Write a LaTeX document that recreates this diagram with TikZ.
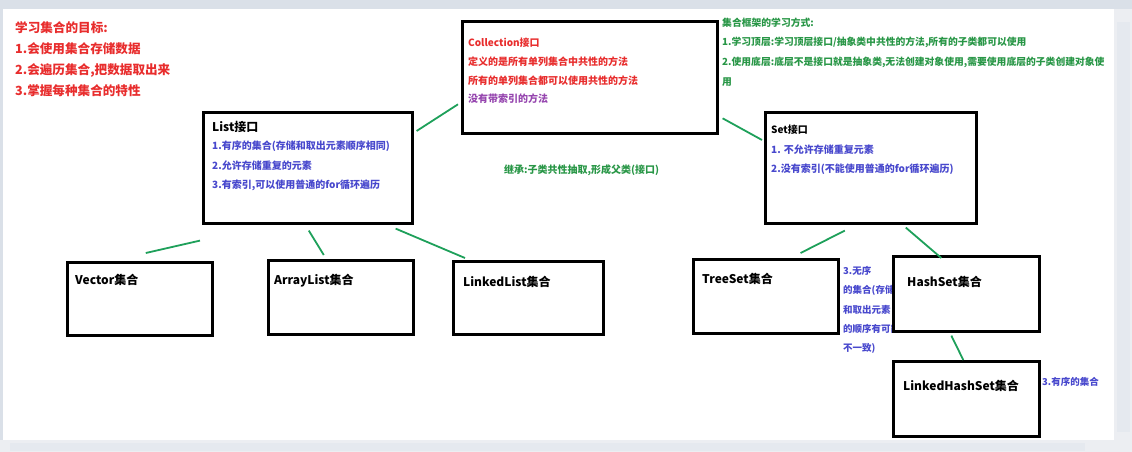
\documentclass[tikz,border=0pt]{standalone}
\usepackage{fontspec}
\setmainfont{Noto Sans CJK SC}
\usetikzlibrary{positioning,calc}
\definecolor{redtxt}{RGB}{232,45,45}
\definecolor{bluetxt}{RGB}{72,72,205}
\definecolor{greentxt}{RGB}{40,150,70}
\definecolor{purpletxt}{RGB}{150,70,175}
\definecolor{linkgreen}{RGB}{30,160,90}
\definecolor{chrome}{RGB}{218,224,232}
\definecolor{chromebar}{RGB}{236,238,242}
\tikzset{
  box/.style={draw=black,line width=2.6pt,fill=white,anchor=north west,inner sep=0pt},
  link/.style={draw=linkgreen,line width=1.8pt},
  txt/.style={anchor=west,inner sep=0pt,font=\bfseries\fontsize{#1}{#1}\selectfont},
  txt/.default=10,
  boxlabel/.style={txt=12,text=black},
}

\begin{document}
\begin{tikzpicture}[x=1pt,y=-1pt]
  \useasboundingbox (0,0) rectangle (1132,452);
  % window chrome
  \fill[chrome] (0,0) rectangle (1132,9);
  \fill[chrome] (0,9) rectangle (3,440);
  \fill[chromebar] (1114,9) rectangle (1132,452);
  \fill[chrome!70] (1117,22) rectangle (1130,432);
  \fill[chromebar] (0,440) rectangle (1114,452);
  \fill[chrome!70] (10,443) rectangle (1085,451);

  % goals
  \foreach \t [count=\i from 0] in {学习集合的目标:,1.会使用集合存储数据,{2.会遍历集合,把数据取出来},3.掌握每种集合的特性}
    \node[txt=12.6,text=redtxt] (goal\i) at (15,28+21*\i) {\t};

  % learning method
  \foreach \t [count=\i from 0] in {集合框架的学习方式:,{1.学习顶层:学习顶层接口/抽象类中共性的方法,所有的子类都可以使用},{2.使用底层:底层不是接口就是抽象类,无法创建对象使用,需要使用底层的子类创建对象使},用}
    \node[txt=9.8,text=greentxt] (way\i) at (722,23+19.7*\i) {\t};

  % Collection
  \node[box,minimum width=255pt,minimum height=112pt] (coll) at (461,20) {};
  \node[txt,text=redtxt] (collt) at (468,43) {Collection接口};
  \foreach \t [count=\i] in {定义的是所有单列集合中共性的方法,所有的单列集合都可以使用共性的方法}
    \node[txt,text=redtxt] at (468,43+18.7*\i) {\t};
  \node[txt,text=purpletxt] at (468,99) {没有带索引的方法};

  % List
  \node[box,minimum width=209pt,minimum height=111pt] (list) at (202,111) {};
  \node[txt=12] (listt) at (212,127) {List接口};
  \foreach \t [count=\i] in {1.有序的集合(存储和取出元素顺序相同),2.允许存储重复的元素,{3.有索引,可以使用普通的for循环遍历}}
    \node[txt,text=bluetxt] at (212,127+19.3*\i) {\t};

  % Set
  \node[box,minimum width=211pt,minimum height=111pt] (set) at (764,111) {};
  \node[txt=10] (sett) at (771,130) {Set接口};
  \foreach \t [count=\i] in {1. 不允许存储重复元素,2.没有索引(不能使用普通的for循环遍历)}
    \node[txt,text=bluetxt] at (771,130+19.5*\i) {\t};

  \node[txt,text=greentxt] (inherit) at (504,170) {继承:子类共性抽取,形成父类(接口)};

  % implementations
  \node[box,minimum width=145pt,minimum height=73pt] (vec) at (66,261) {};
  \node[boxlabel] at (75,280) {Vector集合};
  \node[box,minimum width=145pt,minimum height=74pt] (alist) at (267,259) {};
  \node[boxlabel] at (274,281) {ArrayList集合};
  \node[box,minimum width=150pt,minimum height=73pt] (llist) at (452,260) {};
  \node[boxlabel] at (463,282) {LinkedList集合};
  \node[box,minimum width=145pt,minimum height=74pt] (tset) at (692,258) {};
  \node[boxlabel] at (702,279) {TreeSet集合};

  \foreach \t [count=\i from 0] in {3.无序,的集合(存储,和取出元素,的顺序有可能,不一致)}
    \node[txt=9.5,text=bluetxt] (note\i) at (843,271+19.3*\i) {\t};

  \node[box,minimum width=146pt,minimum height=75pt] (hset) at (892,255) {};
  \node[boxlabel] at (907,282) {HashSet集合};
  \node[box,minimum width=146pt,minimum height=75pt] (lhset) at (892,360) {};
  \node[boxlabel] at (903,386) {LinkedHashSet集合};
  \node[txt=9.5,text=bluetxt] (ordered) at (1042,382) {3.有序的集合};

  % inheritance lines
  \draw[link] ([xshift=3pt,yshift=-20pt]list.north east) -- ([xshift=-3pt,yshift=-27pt]coll.west);
  \draw[link] ([xshift=4pt,yshift=-41pt]coll.east) -- ([xshift=-2pt,yshift=-29pt]set.north west);
  \draw[link] ([xshift=-2pt,yshift=-16pt]list.south west) -- ([xshift=6pt,yshift=8pt]vec.north);
  \draw[link] ([xshift=1pt,yshift=-6pt]list.south) -- ([xshift=-17pt,yshift=4pt]alist.north);
  \draw[link] ([xshift=-18pt,yshift=-4pt]list.south east) -- ([xshift=13pt,yshift=2pt]llist.north west);
  \draw[link] ([xshift=-26pt,yshift=-6pt]set.south) -- ([xshift=-39pt,yshift=5pt]tset.north east);
  \draw[link] ([xshift=35pt,yshift=-3pt]set.south) -- ([xshift=-25pt,yshift=-3pt]hset.north);
  \draw[link] ([xshift=-15pt,yshift=-3pt]hset.south) -- ([xshift=-3pt,yshift=0pt]lhset.north);
\end{tikzpicture}
\end{document}
